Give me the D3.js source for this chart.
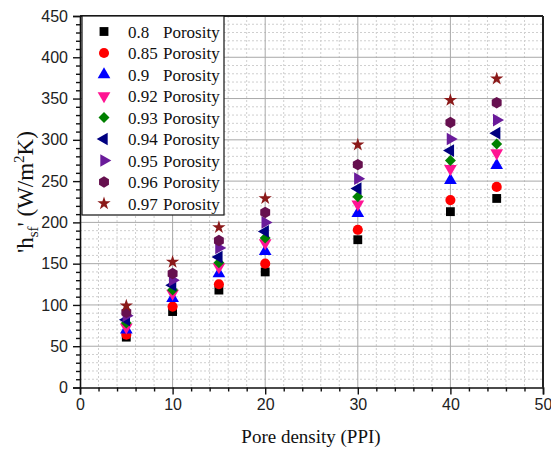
<!DOCTYPE html>
<html>
<head>
<meta charset="utf-8">
<script src="https://cdn.jsdelivr.net/npm/d3@7"></script>
<style>
  html, body { margin: 0; padding: 0; background: #fff; }
  svg { display: block; }
</style>
</head>
<body>
<svg id="chart" width="551" height="450"></svg>
<script>
// Pore density (PPI) at which h_sf' was evaluated
const ppi = [5, 10, 15, 20, 30, 40, 45];

// Porosity labels shown in the legend
const porosityLabels = ["0.8", "0.85", "0.9", "0.92", "0.93", "0.94", "0.95", "0.96", "0.97"];

// h_sf' (W/m²K) for each porosity, one value per pore density
const h080 = [61, 92, 118, 140, 179, 213, 229];
const h085 = [64, 98, 125, 150, 191, 227, 243];
const h090 = [70, 108, 138, 165, 211, 251, 269];
const h092 = [73, 114, 146, 175, 222, 265, 284];
const h093 = [78, 118, 151, 181, 231, 275, 295];
const h094 = [82, 124, 158, 189, 241, 287, 308];
const h095 = [87, 130, 169, 200, 253, 301, 324];
const h096 = [91, 138, 178, 212, 270, 321, 345];
const h097 = [99, 152, 194, 229, 294, 348, 374];

// Axis ticks
const xTicks = [0, 10, 20, 30, 40, 50];
const yTicks = [0, 50, 100, 150, 200, 250, 300, 350, 400, 450];

const seriesValues = [h080, h085, h090, h092, h093, h094, h095, h096, h097];

// Marker styling per series
const colors = ["#000000", "#ff0000", "#0000ff", "#ff1493", "#008000", "#000080", "#6a1b9a", "#66104f", "#8b1a1a"];

const svg = d3.select("#chart");
const plotLeft = 80, plotRight = 543, plotTop = 16, plotBottom = 387.5;

const x = d3.scaleLinear().domain([0, 50]).range([plotLeft, plotRight]);
const y = d3.scaleLinear().domain([0, 450]).range([plotBottom, plotTop]);

const serif = "'Liberation Serif', 'Times New Roman', serif";
const sans = "'Liberation Sans', Arial, sans-serif";

const xMinorTicks = d3.range(2, 50, 2).filter(v => v % 10 !== 0);
const yMinorTicks = d3.range(10, 450, 10).filter(v => v % 50 !== 0);

// Minor grid (dotted)
const g = svg.append("g");
g.selectAll(".vminor").data(xMinorTicks).join("line")
  .attr("x1", d => x(d)).attr("x2", d => x(d)).attr("y1", plotTop).attr("y2", plotBottom)
  .attr("stroke", "#cfcfcf").attr("stroke-width", 1).attr("stroke-dasharray", "2,2");
g.selectAll(".hminor").data(yMinorTicks).join("line")
  .attr("x1", plotLeft).attr("x2", plotRight).attr("y1", d => y(d)).attr("y2", d => y(d))
  .attr("stroke", "#cfcfcf").attr("stroke-width", 1).attr("stroke-dasharray", "2,2");

// Major grid (solid)
g.selectAll(".vmajor").data(xTicks.slice(1, -1)).join("line")
  .attr("x1", d => x(d)).attr("x2", d => x(d)).attr("y1", plotTop).attr("y2", plotBottom)
  .attr("stroke", "#a8a8a8").attr("stroke-width", 1);
g.selectAll(".hmajor").data(yTicks.slice(1, -1)).join("line")
  .attr("x1", plotLeft).attr("x2", plotRight).attr("y1", d => y(d)).attr("y2", d => y(d))
  .attr("stroke", "#a8a8a8").attr("stroke-width", 1);

// Frame: top and right borders
svg.append("line").attr("x1", plotLeft).attr("x2", plotRight).attr("y1", plotTop).attr("y2", plotTop)
  .attr("stroke", "#222").attr("stroke-width", 2);
svg.append("line").attr("x1", plotRight).attr("x2", plotRight).attr("y1", plotTop).attr("y2", plotBottom)
  .attr("stroke", "#222").attr("stroke-width", 2);

// Axes
const xAxis = svg.append("g").attr("transform", `translate(0,${plotBottom})`)
  .call(d3.axisBottom(x).tickValues(xTicks).tickSize(7).tickPadding(4).tickFormat(d3.format("d")));
const xMinor = svg.append("g").attr("transform", `translate(0,${plotBottom})`)
  .call(d3.axisBottom(x).tickValues(xMinorTicks).tickSize(4).tickFormat(""));
const yAxis = svg.append("g").attr("transform", `translate(${plotLeft},0)`)
  .call(d3.axisLeft(y).tickValues(yTicks).tickSize(7).tickPadding(5).tickFormat(d3.format("d")));
const yMinor = svg.append("g").attr("transform", `translate(${plotLeft},0)`)
  .call(d3.axisLeft(y).tickValues(yMinorTicks).tickSize(4).tickFormat(""));

[xAxis, xMinor, yAxis, yMinor].forEach(a => {
  a.select(".domain").attr("stroke", "#111").attr("stroke-width", 1.6);
  a.selectAll(".tick line").attr("stroke", "#111").attr("stroke-width", 1.4);
  a.selectAll("text").attr("font-family", sans).attr("font-size", 16).attr("fill", "#222");
});
xMinor.select(".domain").remove();
yMinor.select(".domain").remove();

// Marker shapes
const hexagon = {
  draw(context, size) {
    const r = Math.sqrt(size / (1.5 * Math.sqrt(3)));
    for (let i = 0; i < 6; i++) {
      const a = Math.PI / 3 * i - Math.PI / 2;
      const px = r * Math.cos(a), py = r * Math.sin(a);
      if (i === 0) context.moveTo(px, py); else context.lineTo(px, py);
    }
    context.closePath();
  }
};
const shapes = [
  { type: d3.symbolSquare, size: 78, rot: 0 },
  { type: d3.symbolCircle, size: 80, rot: 0 },
  { type: d3.symbolTriangle, size: 70, rot: 0 },
  { type: d3.symbolTriangle, size: 70, rot: 180 },
  { type: d3.symbolSquare, size: 60, rot: 45 },
  { type: d3.symbolTriangle, size: 70, rot: -90 },
  { type: d3.symbolTriangle, size: 70, rot: 90 },
  { type: hexagon, size: 85, rot: 0 },
  { type: d3.symbolStar, size: 55, rot: 0 }
];
function markerPath(i) { return d3.symbol().type(shapes[i].type).size(shapes[i].size)(); }

// Data points
seriesValues.forEach((vals, i) => {
  svg.append("g").selectAll("path").data(vals).join("path")
    .attr("d", markerPath(i))
    .attr("transform", (d, j) => `translate(${x(ppi[j])},${y(d)}) rotate(${shapes[i].rot})`)
    .attr("fill", colors[i]);
});

// Legend
const lg = svg.append("g");
lg.append("rect").attr("x", 82).attr("y", 16).attr("width", 142).attr("height", 199)
  .attr("fill", "#fff").attr("stroke", "#111").attr("stroke-width", 1.2);
porosityLabels.forEach((lab, i) => {
  const cy = 31.5 + i * 21.5;
  lg.append("path").attr("d", markerPath(i))
    .attr("transform", `translate(104,${cy}) rotate(${shapes[i].rot})`)
    .attr("fill", colors[i]);
  const t = lg.append("text").attr("y", cy + 6).attr("font-family", serif)
    .attr("font-size", 17).attr("fill", "#111");
  t.append("tspan").attr("x", 128).text(lab);
  t.append("tspan").attr("x", 163).text("Porosity");
});

// Axis titles
svg.append("text").attr("x", 311).attr("y", 443)
  .attr("text-anchor", "middle").attr("font-family", serif).attr("font-size", 19)
  .attr("fill", "#111").text("Pore density (PPI)");

const yl = svg.append("text")
  .attr("transform", `translate(33,192) rotate(-90)`)
  .attr("text-anchor", "middle").attr("font-family", serif).attr("font-size", 23).attr("fill", "#111");
yl.append("tspan").text("'h");
yl.append("tspan").attr("font-size", 15).attr("dy", 5).text("sf");
yl.append("tspan").attr("dy", -5).text("' (W/m");
yl.append("tspan").attr("font-size", 15).attr("dy", -9).text("2");
yl.append("tspan").attr("dy", 9).text("K)");
</script>
</body>
</html>
